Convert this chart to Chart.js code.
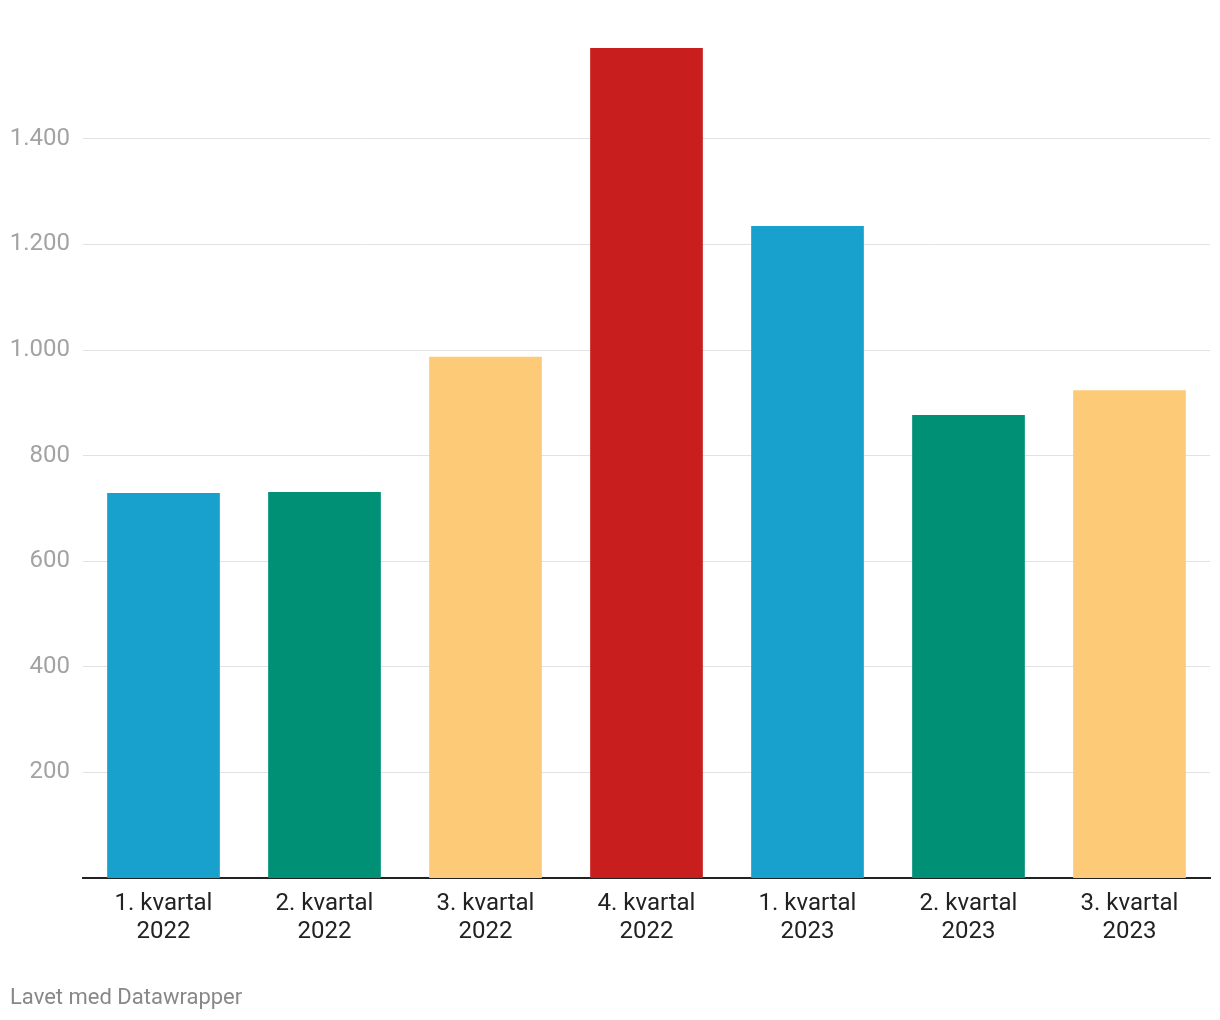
<!DOCTYPE html>
<html>
<head>
<meta charset="utf-8">
<script src="https://cdn.jsdelivr.net/npm/chart.js@4.4.0/dist/chart.umd.min.js"></script>
<style>
  body { margin: 0; background: #fff; }
  #wrap { position: relative; width: 1220px; height: 1020px; }
  #footer {
    position: absolute; left: 10px; top: 984px;
    font-family: Roboto, sans-serif; font-size: 22px; color: #888;
  }
</style>
</head>
<body>
<div id="wrap">
  <canvas id="chart" width="1220" height="1020"></canvas>
  <div id="footer">Lavet med Datawrapper</div>
</div>
<script>
// quarters
const quarters = [
  ["1. kvartal", "2022"],
  ["2. kvartal", "2022"],
  ["3. kvartal", "2022"],
  ["4. kvartal", "2022"],
  ["1. kvartal", "2023"],
  ["2. kvartal", "2023"],
  ["3. kvartal", "2023"],
];
const values = [729, 731, 987, 1572, 1235, 877, 924];
const barColors = ["#18a1cd", "#009076", "#fdca78", "#c91e1e", "#18a1cd", "#009076", "#fdca78"];
const yTicks = [200, 400, 600, 800, 1000, 1200, 1400];

function fmt(v) {
  return String(v).replace(/\B(?=(\d{3})+(?!\d))/g, ".");
}

const ctx = document.getElementById("chart");

new Chart(ctx, {
  type: "bar",
  data: {
    labels: quarters,
    datasets: [
      {
        data: values,
        backgroundColor: barColors,
        barPercentage: 0.7,
        categoryPercentage: 1.0,
      },
    ],
  },
  options: {
    responsive: false,
    animation: false,
    layout: { padding: { top: 48, right: 10, left: 0, bottom: 0 } },
    plugins: {
      legend: { display: false },
      tooltip: { enabled: false },
    },
    scales: {
      x: {
        grid: { display: false },
        border: { display: true, color: "#222", width: 2 },
        ticks: {
          color: "#222",
          padding: 4,
          font: { family: "Roboto", size: 24, lineHeight: 1.17 },
        },
        afterFit(scale) {
          scale.height = 142;
        },
      },
      y: {
        min: 0,
        max: Math.max(...values),
        border: { display: false },
        grid: { color: "#e2e2e2", lineWidth: 1, drawTicks: false },
        ticks: {
          color: "#a3a3a3",
          padding: 13,
          font: { family: "Roboto", size: 24 },
          callback: (v) => fmt(v),
        },
        afterBuildTicks(scale) {
          scale.ticks = yTicks.map((v) => ({ value: v }));
        },
        afterFit(scale) {
          scale.width = 83;
        },
      },
    },
  },
});
</script>
</body>
</html>
